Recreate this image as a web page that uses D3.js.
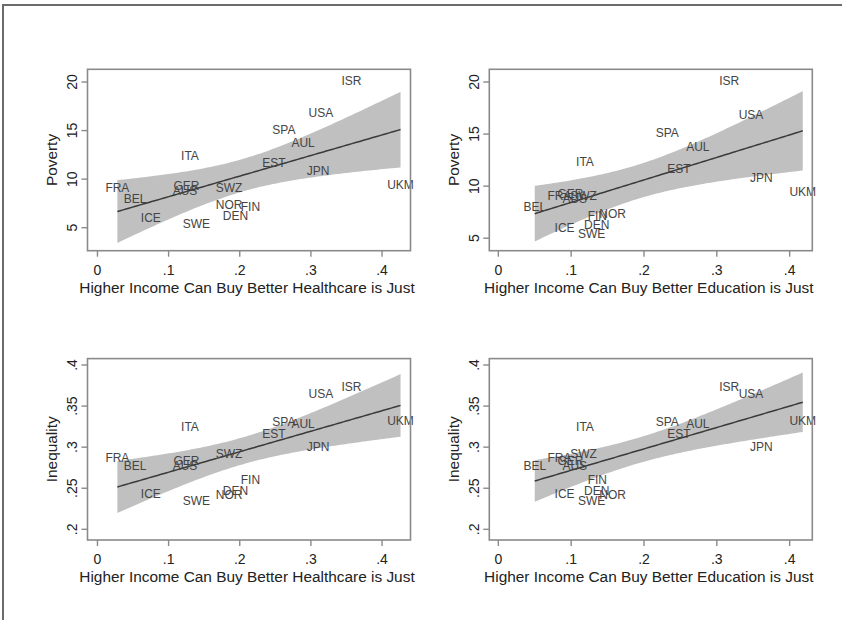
<!DOCTYPE html>
<head>
<meta charset="utf-8">
<script src="https://cdn.jsdelivr.net/npm/d3@7"></script>
<style>
body { margin: 0; background: #fff; }
svg text { font-family: "Liberation Sans", Arial, sans-serif; }
.box { fill: none; stroke: #8a8a8a; stroke-width: 1.6; }
.tick { stroke: #8a8a8a; stroke-width: 1.4; }
.ticklab { font-size: 14px; fill: #222; text-anchor: middle; }
.axtitle { font-size: 15.4px; fill: #222; text-anchor: middle; }
.band { fill: #c0c0c0; stroke: none; }
.fit { fill: none; stroke: #3a3a3a; stroke-width: 1.5; }
.lab { font-size: 12px; fill: #444; text-anchor: middle; }
</style>
<body>
<div id="chart"></div>
<script>
// country codes and values
var countries  = ["FRA","BEL","ICE","AUS","GER","ITA","SWE","SWZ","NOR","DEN","FIN","EST","SPA","AUL","JPN","USA","ISR","UKM"];
var healthcare = [.028,.053,.075,.123,.125,.130,.139,.185,.185,.194,.215,.248,.262,.289,.310,.314,.357,.426];
var education  = [.084,.050,.091,.105,.099,.119,.128,.117,.157,.135,.136,.248,.232,.274,.361,.347,.317,.418];
var poverty    = [9.12,8.0,6.0,8.77,9.32,12.38,5.46,9.12,7.33,6.27,7.17,11.69,15.14,13.8,10.85,16.84,20.14,9.45];
var inequality = [.287,.277,.243,.277,.283,.325,.235,.292,.242,.247,.260,.317,.331,.328,.300,.365,.374,.332];

var xTicks = [0, .1, .2, .3, .4];
var povTicks = [5, 10, 15, 20];
var ineqTicks = [.2, .25, .3, .35, .4];

var healthTitle = "Higher Income Can Buy Better Healthcare is Just";
var eduTitle = "Higher Income Can Buy Better Education is Just";

var W = 842, H = 620, bw = 323, bh = 181.4;

var panels = [
  {xs: healthcare, ys: poverty, xt: healthTitle, yt: "Poverty", left: 87.5, top: 69.3,
   xdom: [-0.014, 0.440], ydom: [2.63, 21.31], yticks: povTicks},
  {xs: education, ys: poverty, xt: eduTitle, yt: "Poverty", left: 489.3, top: 69.3,
   xdom: [-0.0124, 0.4311], ydom: [3.8, 21.22], yticks: povTicks},
  {xs: healthcare, ys: inequality, xt: healthTitle, yt: "Inequality", left: 87.5, top: 358.6,
   xdom: [-0.014, 0.440], ydom: [0.187, 0.4078], yticks: ineqTicks},
  {xs: education, ys: inequality, xt: eduTitle, yt: "Inequality", left: 489.3, top: 358.6,
   xdom: [-0.0124, 0.4311], ydom: [0.187, 0.4078], yticks: ineqTicks}
];

var fmt = function(d) { return d === 0 ? "0" : String(d).replace(/^0\./, "."); };

var svg = d3.select("#chart").append("svg")
    .attr("width", W)
    .attr("height", H);

// outer frame (top and left edge only, as in the source)
svg.append("path")
    .attr("d", "M3," + H + "V5H" + W)
    .attr("fill", "none")
    .attr("stroke", "#6b6b6b")
    .attr("stroke-width", 2);

// least squares fit with 95% CI of the mean
function fitci(xs, ys) {
  var n = xs.length;
  var mx = d3.mean(xs), my = d3.mean(ys);
  var sxx = 0, sxy = 0;
  for (var i = 0; i < n; i++) {
    sxx += (xs[i] - mx) * (xs[i] - mx);
    sxy += (xs[i] - mx) * (ys[i] - my);
  }
  var b = sxy / sxx, a = my - b * mx;
  var ssr = 0;
  for (var j = 0; j < n; j++) ssr += Math.pow(ys[j] - a - b * xs[j], 2);
  var s = Math.sqrt(ssr / (n - 2));
  var t = 2.1199; // t(0.975, 16)
  var lo = d3.min(xs), hi = d3.max(xs);
  return d3.range(100).map(function(k) {
    var x = lo + (hi - lo) * k / 99;
    var yh = a + b * x;
    var se = s * Math.sqrt(1 / n + (x - mx) * (x - mx) / sxx);
    return {x: x, y: yh, lo: yh - t * se, hi: yh + t * se};
  });
}

panels.forEach(function(p) {
  var x = d3.scaleLinear().domain(p.xdom).range([p.left, p.left + bw]);
  var y = d3.scaleLinear().domain(p.ydom).range([p.top + bh, p.top]);
  var g = svg.append("g");
  var pts = fitci(p.xs, p.ys);

  g.append("path")
      .datum(pts)
      .attr("class", "band")
      .attr("d", d3.area()
          .x(function(d) { return x(d.x); })
          .y0(function(d) { return y(d.lo); })
          .y1(function(d) { return y(d.hi); }));

  g.append("path")
      .datum(pts)
      .attr("class", "fit")
      .attr("d", d3.line()
          .x(function(d) { return x(d.x); })
          .y(function(d) { return y(d.y); }));

  // country labels centred on the points
  g.selectAll(".lab")
      .data(countries)
    .enter().append("text")
      .attr("class", "lab")
      .attr("x", function(d, i) { return x(p.xs[i]); })
      .attr("y", function(d, i) { return y(p.ys[i]); })
      .attr("dy", "0.36em")
      .text(function(d) { return d; });

  g.append("rect")
      .attr("class", "box")
      .attr("x", p.left).attr("y", p.top)
      .attr("width", bw).attr("height", bh);

  // x axis
  xTicks.forEach(function(v) {
    g.append("line").attr("class", "tick")
        .attr("x1", x(v)).attr("x2", x(v))
        .attr("y1", p.top + bh).attr("y2", p.top + bh + 6);
    g.append("text").attr("class", "ticklab")
        .attr("x", x(v)).attr("y", p.top + bh + 24)
        .text(fmt(v));
  });
  g.append("text").attr("class", "axtitle")
      .attr("x", p.left + bw / 2 - 2)
      .attr("y", p.top + bh + 42)
      .text(p.xt);

  // y axis, labels turned like Stata's
  p.yticks.forEach(function(v) {
    g.append("line").attr("class", "tick")
        .attr("x1", p.left - 6).attr("x2", p.left)
        .attr("y1", y(v)).attr("y2", y(v));
    g.append("text").attr("class", "ticklab")
        .attr("transform", "translate(" + (p.left - 15.5) + "," + y(v) + ") rotate(-90)")
        .attr("dy", "0.36em")
        .text(fmt(v));
  });
  g.append("text").attr("class", "axtitle")
      .attr("transform", "translate(" + (p.left - 36) + "," + (p.top + bh / 2) + ") rotate(-90)")
      .attr("dy", "0.36em")
      .text(p.yt);
});
</script>
</body>
